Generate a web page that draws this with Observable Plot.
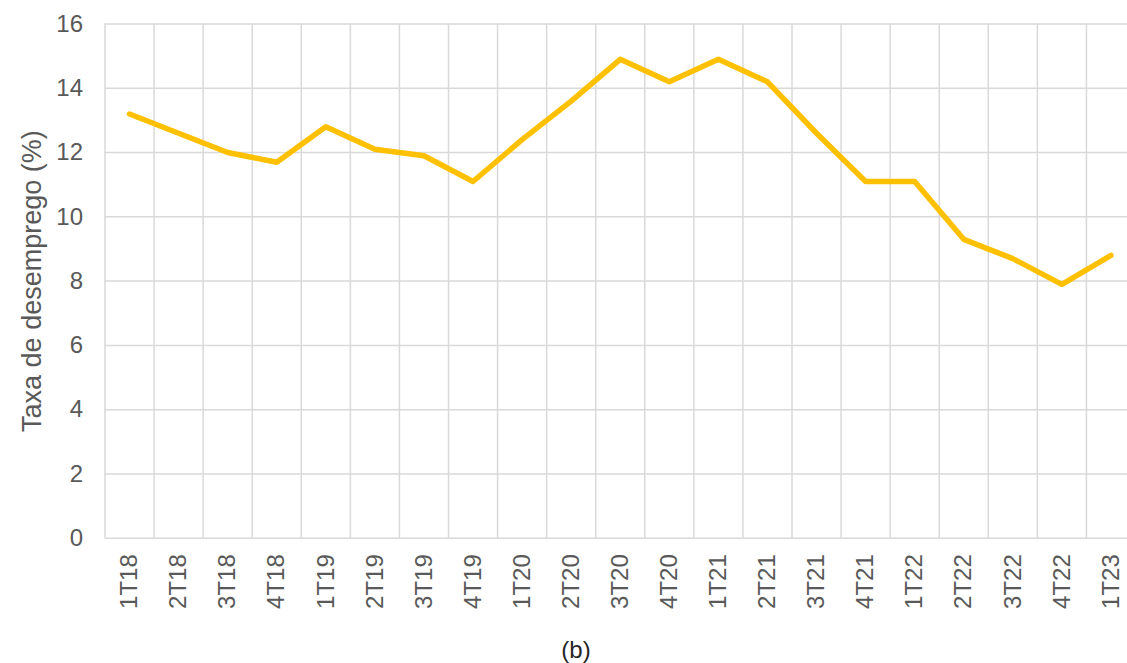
<!DOCTYPE html>
<html>
<head>
<meta charset="utf-8">
<script src="https://cdn.jsdelivr.net/npm/d3@7"></script>
<script src="https://cdn.jsdelivr.net/npm/@observablehq/plot@0.6"></script>
<style>
  html, body { margin: 0; padding: 0; background: #fff; }
  #chart svg { display: block; }
  #caption { width: 1152px; text-align: center; font-family: "Liberation Sans", Arial, sans-serif; font-size: 24px; color: #262626; line-height: 50px; height: 38px; }
</style>
</head>
<body>
<div id="chart"></div>
<div id="caption">(b)</div>
<script>
const categories = ["1T18","2T18","3T18","4T18","1T19","2T19","3T19","4T19","1T20","2T20","3T20","4T20","1T21","2T21","3T21","4T21","1T22","2T22","3T22","4T22","1T23"];
const values = [13.2,12.6,12.0,11.7,12.8,12.1,11.9,11.1,12.4,13.6,14.9,14.2,14.9,14.2,12.6,11.1,11.1,9.3,8.7,7.9,8.8];
const yTicks = [0,2,4,6,8,10,12,14,16];

const data = categories.map((c, i) => ({idx: i, cat: c, value: values[i]}));
const centers = categories.map((c, i) => i + 0.5);
const boundaries = categories.map((c, i) => i);

const chart = Plot.plot({
  width: 1127,
  height: 625,
  marginTop: 23.5,
  marginBottom: 87.3,
  marginLeft: 104.5,
  marginRight: 0,
  style: {fontFamily: "'Liberation Sans', Arial, sans-serif", color: "#595959", background: "#fff"},
  x: {type: "linear", domain: [0, categories.length], range: [104.5, 1135]},
  y: {domain: [0, 16]},
  marks: [
    Plot.ruleY(yTicks, {stroke: "#d9d9d9", strokeWidth: 1.5}),
    Plot.ruleX(boundaries, {stroke: "#d9d9d9", strokeWidth: 1.5}),
    Plot.line(data, {x: d => d.idx + 0.5, y: "value", stroke: "#FFC000", strokeWidth: 5.5, strokeLinejoin: "round", strokeLinecap: "round"}),
    Plot.axisX(centers, {tickFormat: v => categories[Math.floor(v)], tickRotate: -90, tickSize: 0, tickPadding: 16, fontSize: 24, fill: "#595959", label: null}),
    Plot.axisY(yTicks, {tickSize: 0, tickPadding: 22, fontSize: 24, fill: "#595959", label: null}),
    Plot.axisY({tickSize: 0, ticks: [], fontSize: 27, fill: "#595959", label: "Taxa de desemprego (%)", labelAnchor: "center", labelArrow: "none", labelOffset: 83})
  ]
});
document.getElementById("chart").appendChild(chart);
</script>
</body>
</html>
